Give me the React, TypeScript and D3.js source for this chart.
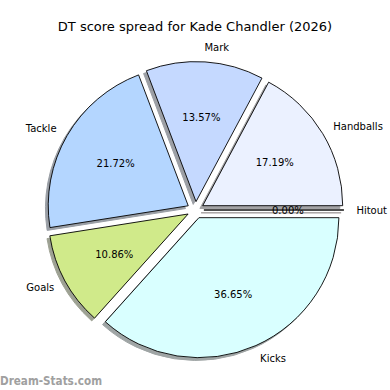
import * as d3 from 'd3';

const categories = ['Handballs', 'Mark', 'Tackle', 'Goals', 'Kicks', 'Hitout'];
const points = [38, 30, 48, 24, 81, 0];
const colors = ['#ebf1ff', '#c5d9ff', '#b4d6ff', '#d0ea8a', '#d9ffff', '#ffe0e0'];

const title = 'DT score spread for Kade Chandler (2026)';
const watermark = 'Dream-Stats.com';

export default function App() {
  const width = 390;
  const height = 390;
  const radius = 140;
  const cx = 195.5;
  const cy = 210;
  const explode = 0.06 * radius;
  const shadowOffset = 0.02 * radius;

  const total = d3.sum(points);

  // matplotlib style: counter-clockwise, starting at 3 o'clock
  const pieData = d3.pie<number>()
    .sort(null)
    .startAngle(Math.PI / 2)
    .endAngle(Math.PI / 2 - 2 * Math.PI)(points);

  const arcGen = d3.arc<d3.PieArcDatum<number>>()
    .innerRadius(0)
    .outerRadius(radius);

  const slices = pieData.map((d, i) => {
    const mid = (d.startAngle + d.endAngle) / 2;
    const ux = Math.sin(mid);
    const uy = -Math.cos(mid);
    const c = d3.rgb(colors[i]);
    return {
      d,
      i,
      ux,
      uy,
      ox: ux * explode,
      oy: uy * explode,
      path: arcGen(d) || '',
      shadow: d3.rgb(c.r * 0.3, c.g * 0.3, c.b * 0.3).formatHex(),
    };
  });

  return (
    <svg
      width={width}
      height={height}
      style={{ position: 'absolute', left: 0, top: 0, background: '#fff' }}
      fontFamily="DejaVu Sans"
    >
      <text x={195} y={26} textAnchor="middle" dominantBaseline="central" fontSize={13}>
        {title}
      </text>
      <g transform={`translate(${cx},${cy})`}>
        {slices.map((s) => (
          <path
            key={'sh' + s.i}
            d={s.path}
            transform={`translate(${s.ox - shadowOffset},${s.oy + shadowOffset})`}
            fill={s.shadow}
            stroke={s.shadow}
            strokeWidth={1}
            opacity={0.5}
          />
        ))}
        {slices.map((s) => (
          <path
            key={'w' + s.i}
            d={s.path}
            transform={`translate(${s.ox},${s.oy})`}
            fill={colors[s.i]}
            stroke="#000"
            strokeWidth={0.9}
            strokeLinejoin="round"
          />
        ))}
        {slices.map((s) => (
          <text
            key={'l' + s.i}
            x={s.ox + s.ux * radius * 1.1 - (s.ux > 0 ? 1.5 : -1.5)}
            y={s.oy + s.uy * radius * 1.1}
            textAnchor={s.ux > 0 ? 'start' : 'end'}
            dominantBaseline="central"
            fontSize={10}
          >
            {categories[s.i]}
          </text>
        ))}
        {slices.map((s) => (
          <text
            key={'p' + s.i}
            x={s.ox + s.ux * radius * 0.6}
            y={s.oy + s.uy * radius * 0.6}
            textAnchor="middle"
            dominantBaseline="central"
            fontSize={10}
          >
            {((s.d.data / total) * 100).toFixed(2) + '%'}
          </text>
        ))}
      </g>
      <text
        x={0}
        y={385}
        fontSize={12}
        fontWeight="bold"
        fill="#a0a0a0"
        textLength={102}
        lengthAdjust="spacingAndGlyphs"
      >
        {watermark}
      </text>
    </svg>
  );
}
